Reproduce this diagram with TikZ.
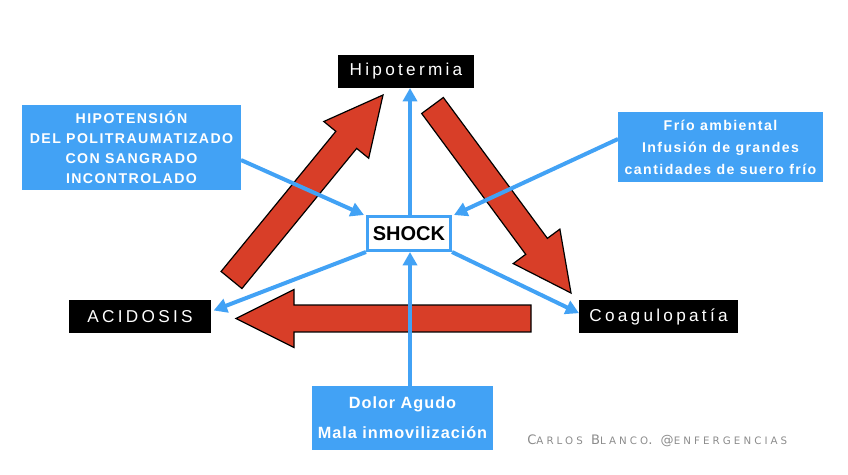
\documentclass[tikz,border=0pt]{standalone}
\usepackage{fontspec}
\setmainfont{Liberation Sans}
\newfontfamily\labelfont[LetterSpace=19]{Liberation Sans}
\newfontfamily\boxfont[LetterSpace=10]{Liberation Sans}
\newfontfamily\dolorfont[LetterSpace=6]{Liberation Sans}
\newfontfamily\creditfont[LetterSpace=30]{DejaVu Sans}
\usepackage{xcolor}
\usepackage{tikz}
\usetikzlibrary{arrows.meta, positioning, calc}

\definecolor{causeblue}{RGB}{66,162,245}
\definecolor{cyclered}{RGB}{216,62,40}
\definecolor{creditgray}{RGB}{140,140,140}

% big red cycle arrow: #1 tail, #2 tip
\newcommand{\cyclearrow}[2]{%
  \coordinate (#1-base) at ($(#2)!43.5pt!(#1)$);
  \filldraw[cyclered, draw=black, line width=0.9pt, line join=miter]
    ($(#1)!10.1pt!90:(#2)$) -- ($(#1-base)!10.1pt!90:(#2)$)
    -- ($(#1-base)!21.75pt!90:(#2)$) -- (#2)
    -- ($(#1-base)!21.75pt!-90:(#2)$) -- ($(#1-base)!10.1pt!-90:(#2)$)
    -- ($(#1)!10.1pt!-90:(#2)$) -- cycle;
}
\newcommand{\capsmall}[2]{{\fontsize{9.8}{11}\selectfont #1}{\fontsize{7.7}{9}\selectfont #2}}

\begin{document}
\begin{tikzpicture}[
    x=0.75pt, y=-0.75pt,
    state/.style={fill=black, text=white, inner sep=0pt, outer sep=0pt,
      minimum height=24.75pt, font=\labelfont\fontsize{12.9}{15}\selectfont},
    cause/.style={fill=causeblue, text=white, inner sep=0pt, outer sep=0pt,
      align=center, font=\boxfont\bfseries\fontsize{10.6}{15}\selectfont},
    link/.style={draw=causeblue, line width=3pt,
      -{Triangle[length=10pt, width=10.5pt]}},
]
\useasboundingbox (0,0) rectangle (848,474);

% states of the triad
\node[state, minimum width=102pt] (hipo) at (406,71.5) {Hipotermia};
\node[state, minimum width=106.5pt] (acid) at (140,316.5) {ACIDOSIS};
\node[state, minimum width=119.25pt] (coag) at (658.5,316.5) {Coagulopatía};

% centre
\node[draw=causeblue, line width=2.25pt, fill=white, inner sep=0pt,
  minimum width=62.25pt, minimum height=25.5pt,
  font=\bfseries\fontsize{15}{18}\selectfont] (shock) at (409,233.5) {SHOCK};

% causes
\node[cause, minimum width=164.25pt, minimum height=63.75pt] (hipot) at (131.5,147.5)
  {HIPOTENSIÓN\\DEL POLITRAUMATIZADO\\CON SANGRADO\\INCONTROLADO};
\node[cause, minimum width=153.75pt, minimum height=52.5pt,
  font=\boxfont\bfseries\fontsize{10.6}{16.5}\selectfont] (frio) at (720.5,147)
  {Frío ambiental\\Infusión de grandes\\cantidades de suero frío};
\node[cause, minimum width=135.75pt, minimum height=48pt,
  font=\dolorfont\bfseries\fontsize{12.2}{22.5}\selectfont] (dolor) at (402.5,418)
  {Dolor Agudo\\Mala inmovilización};

% red cycle arrows
\coordinate (tailA) at (231.5,280);
\coordinate (tipA) at (383,95);
\coordinate (tailB) at (432.5,105.5);
\coordinate (tipB) at (571,293);
\coordinate (tailC) at (531,318.5);
\coordinate (tipC) at (236,318.5);
\cyclearrow{tailA}{tipA}
\cyclearrow{tailB}{tipB}
\cyclearrow{tailC}{tipC}

% blue links
\draw[link] ([xshift=0.75pt]shock.north) -- ([xshift=0.75pt]shock.north |- hipo.south);
\draw[link] ([yshift=-9.4pt]hipot.east) -- ([xshift=-1.5pt]shock.north west);
\draw[link] ([yshift=6pt]frio.west) -- ([xshift=1.5pt]shock.north east);
\draw[link] (shock.south west) -- ([xshift=2pt, yshift=4.5pt]acid.east);
\draw[link] (shock.south east) -- ([yshift=2.5pt]coag.west);
\draw[link] ([xshift=0.75pt]dolor.north -| shock.south) -- ([xshift=0.75pt]shock.south);

% credit
\node[anchor=base west, inner sep=0pt, text=creditgray, font=\creditfont] (credit) at (527,444)
  {\capsmall{C}{ARLOS} \capsmall{B}{LANCO}. \capsmall{@}{ENFERGENCIAS}};

\end{tikzpicture}
\end{document}
